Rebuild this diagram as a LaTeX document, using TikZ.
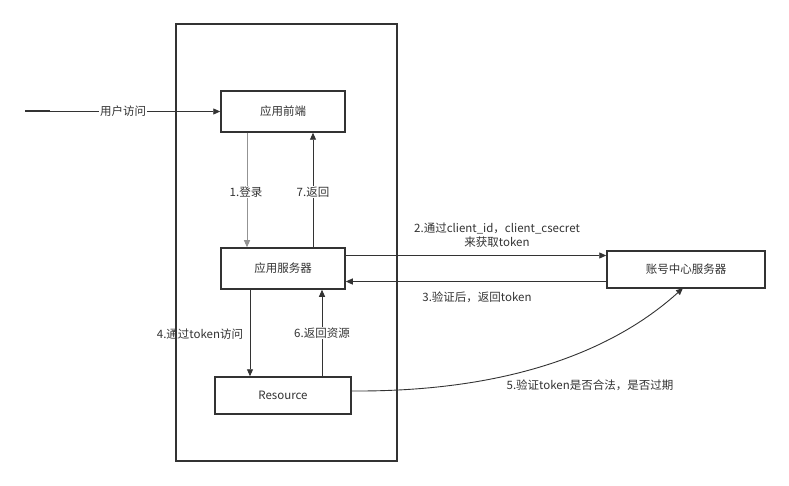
\documentclass[tikz,border=0pt]{standalone}
\usepackage{fontspec}
\setmainfont{Noto Sans CJK SC}
\usetikzlibrary{arrows.meta}
\definecolor{ln}{HTML}{333333}
\definecolor{tx}{HTML}{333333}
\begin{document}
\begin{tikzpicture}[x=1pt,y=-1pt,
  every node/.style={font=\fontsize{11.5}{14}\selectfont, text=tx},
  box/.style={draw=ln, line width=1.5pt, fill=white, inner sep=0pt},
  arr/.style={draw=ln, line width=0.9pt, -{Triangle[length=7pt,width=6pt]}},
  lbl/.style={fill=white, inner sep=1pt},
  plain/.style={inner sep=1pt}]
\useasboundingbox (0,0) rectangle (789,486);
\fill[white] (0,0) rectangle (789,486);
% outer frame
\draw[ln, line width=1.5pt] (176,24) rectangle (397,461);
% boxes
\node[box, minimum width=124pt, minimum height=41pt] (front) at (283,111.5) {应用前端};
\node[box, minimum width=124pt, minimum height=41pt] (server) at (283,268.5) {应用服务器};
\node[box, minimum width=136pt, minimum height=37pt] (res) at (283,395.5) {Resource};
\node[box, minimum width=158pt, minimum height=37pt] (acct) at (686,269.5) {账号中心服务器};
% input
\coordinate (in) at (25,111.5);
\coordinate (inb) at (50,111.5);
\draw[arr] (in) -- (front.west);
\draw[ln, line width=2pt] (in) -- (inb);
\node[lbl] (lin) at (123,111.5) {用户访问};
% 1 and 7
\draw[arr, draw=gray!85] (front.south -| 247,0) -- (server.north -| 247,0);
\node[lbl] (l1) at (246,192) {1.登录};
\draw[arr] (server.north -| 313,0) -- (front.south -| 313,0);
\node[lbl] (l7) at (313,192) {7.返回};
% 4 and 6
\draw[arr] (server.south -| 250,0) -- (res.north -| 250,0);
\node[plain] (l4) at (200,334) {4.通过token访问};
\draw[arr] (res.north -| 322,0) -- (server.south -| 322,0);
\node[lbl] (l6) at (322,333) {6.返回资源};
% 2 and 3
\draw[arr] (server.east |- 0,255.5) -- (acct.west |- 0,255.5);
\node[plain, align=center] (l2) at (497,235) {2.通过client\_id，client\_csecret\\来获取token};
\draw[arr] (acct.west |- 0,281.5) -- (server.east |- 0,281.5);
\node[plain] (l3) at (477,297) {3.验证后，返回token};
% 5
\coordinate (e5) at (683,288);
\draw[arr] (res.east |- 0,391) .. controls (520,392) and (620,345) .. (e5);
\node[plain] (l5) at (590,385) {5.验证token是否合法，是否过期};
\end{tikzpicture}
\end{document}
